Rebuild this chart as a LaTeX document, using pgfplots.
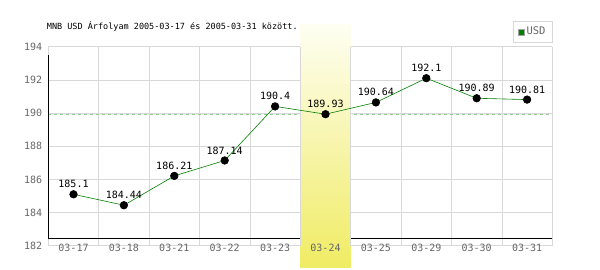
\documentclass[border=0pt]{standalone}
\usepackage{fontspec}
\setmainfont{DejaVu Sans Mono}
\usepackage{pgfplots}
\pgfplotsset{compat=1.18}
\usepackage{pgfplotstable}
\definecolor{gridgray}{RGB}{216,216,216}
\definecolor{ticktext}{RGB}{102,102,102}
\definecolor{linegreen}{RGB}{0,128,0}
\definecolor{avggreen}{RGB}{140,210,140}
\definecolor{bandtop}{RGB}{254,254,242}
\definecolor{bandbot}{RGB}{240,236,100}
\pgfplotstableread{
x y lab
0 185.10 185.1
1 184.44 184.44
2 186.21 186.21
3 187.14 187.14
4 190.40 190.4
5 189.93 189.93
6 190.64 190.64
7 192.10 192.1
8 190.89 190.89
9 190.81 190.81
}\data
\begin{document}
\begin{tikzpicture}
\begin{axis}[
  axis on top,
  at={(0,0)}, anchor=south west,
  scale only axis, width=504pt, height=199pt,
  xmin=-0.5, xmax=9.5, ymin=182, ymax=194,
  clip=false,
  axis line style={draw=none},
  xtick={0,...,9},
  xticklabels={03-17,03-18,03-21,03-22,03-23,03-24,03-25,03-29,03-30,03-31},
  ytick={182,184,...,194},
  major tick length=0pt,
  tick style={draw=none},
  /pgf/number format/assume math mode=true,
  ticklabel style={font=\fontsize{10}{12}\selectfont, text=ticktext},
  xticklabel style={anchor=north, inner sep=0pt, yshift=1.5pt},
  yticklabel style={anchor=east, inner sep=0pt, xshift=-6pt},
  legend style={at={(1,1)}, anchor=south east, yshift=4.4pt, draw=gridgray, line width=0.6pt,
    font=\fontsize{10.5}{12}\selectfont, text=ticktext, inner xsep=4.5pt, inner ysep=3.5pt},
  legend image code/.code={\fill[linegreen, draw=ticktext!60] (0pt,-3pt) rectangle (6pt,3pt);},
]
\pgfplotsinvokeforeach{182,184,...,194}{\draw[gridgray, line width=0.6pt] (axis cs:-0.5,#1) -- (axis cs:9.5,#1);}
\pgfplotsinvokeforeach{-0.5,0.5,...,9.5}{\draw[gridgray, line width=0.6pt] (axis cs:#1,182) -- (axis cs:#1,194);}
\addplot[forget plot, avggreen, line width=0.6pt, dash pattern=on 3pt off 3pt] coordinates {(-0.5,189.93) (9.5,189.93)};
\draw[black, line width=0.9pt] (axis cs:-0.5,193.5) -- (axis cs:-0.5,182.45) -- (axis cs:9.5,182.45);
\path[top color=bandtop, bottom color=bandbot] (axis cs:4.5,180.71) rectangle (axis cs:5.5,195.35);
\draw[gridgray, line width=0.6pt] (axis cs:4.5,182) -- (axis cs:4.5,194);
\draw[gridgray, line width=0.6pt] (axis cs:5.5,182) -- (axis cs:5.5,194);
\addplot[linegreen, line width=0.6pt, mark=*, mark size=3.8pt, mark options={black, fill=black},
  nodes near coords, point meta=explicit symbolic,
  nodes near coords style={font=\fontsize{10}{12}\selectfont, text=black, anchor=south, inner sep=1pt, yshift=5pt}]
  table[x=x, y=y, meta=lab] {\data};
\addlegendentry{USD}
\end{axis}
\node[anchor=base west, inner sep=0pt, font=\fontsize{8.5}{10}\selectfont] at (-1.6pt,215.7pt) {MNB USD Árfolyam 2005-03-17 és 2005-03-31 között.};
\pgfresetboundingbox
\useasboundingbox (-48.3pt,-24.3pt) rectangle (551.7pt,245.7pt);
\end{tikzpicture}
\end{document}
